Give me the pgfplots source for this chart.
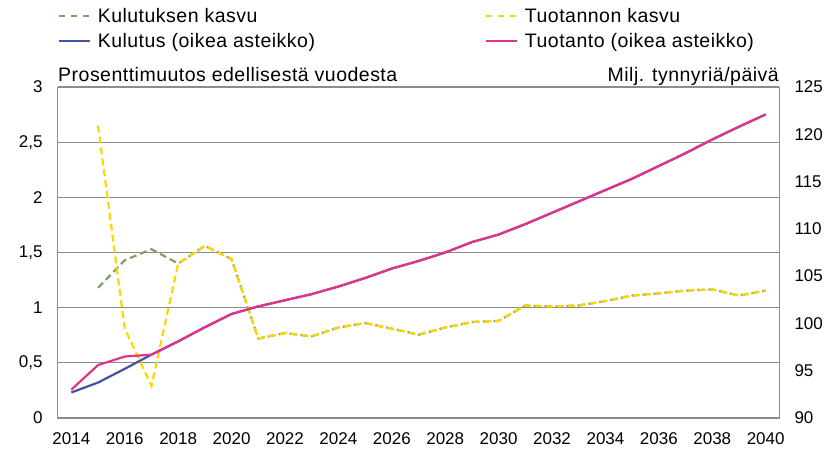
\documentclass[border=0pt]{standalone}
\usepackage{pgfplots}
\pgfplotsset{compat=1.18}
\usepackage{fontspec}
\setmainfont{Liberation Sans}
\newfontfamily\spaced[LetterSpace=2.5]{Liberation Sans}
\definecolor{cgreen}{RGB}{128,160,100}
\definecolor{cyellow}{RGB}{255,214,0}
\definecolor{cblue}{RGB}{70,80,165}
\definecolor{cpink}{RGB}{228,50,140}
\definecolor{cgrid}{RGB}{140,140,140}
\newcommand\f{\fontsize{17}{20}\selectfont}
\newcommand\g{\spaced\fontsize{19.5}{22}\selectfont}
\pgfplotsset{common/.style={scale only axis, width=721pt, height=331pt,
  at={(58pt,33pt)}, anchor=south west, xmin=2013.5, xmax=2040.5,
  axis line style={cgrid, line width=1pt}, major tick length=0pt,
  tick label style={font=\f, text=black},
  /pgf/number format/assume math mode=true,
  /pgf/number format/use comma, /pgf/number format/1000 sep={},
  legend image code/.code={\draw[#1, line width=2.2pt] (0pt,0pt) -- (31pt,0pt); \path (36pt,0pt);}}}
\begin{document}
\begin{tikzpicture}
\begin{axis}[common, clip=false, ymin=0, ymax=3, ytick={0,0.5,...,3},
  xtick={2014,2016,...,2040}, ymajorgrids, grid style={cgrid, line width=1.2pt},
  yticklabel style={xshift=-12pt}, xticklabel style={yshift=-11pt}]
\addplot[cgreen, line width=2.2pt, dash pattern=on 7pt off 4pt] coordinates {
(2015,1.18)(2016,1.43)(2017,1.53)(2018,1.40)(2019,1.56)(2020,1.44)(2021,0.72)(2022,0.77)(2023,0.74)(2024,0.82)(2025,0.86)(2026,0.81)(2027,0.755)(2028,0.82)(2029,0.87)(2030,0.88)(2031,1.02)(2032,1.01)(2033,1.02)(2034,1.06)(2035,1.11)(2036,1.13)(2037,1.155)(2038,1.165)(2039,1.11)(2040,1.155)};
\addplot[cyellow, line width=2.2pt, dash pattern=on 7pt off 4pt] coordinates {
(2015,2.65)(2016,0.81)(2017,0.29)(2018,1.40)(2019,1.56)(2020,1.44)(2021,0.72)(2022,0.77)(2023,0.74)(2024,0.82)(2025,0.86)(2026,0.81)(2027,0.755)(2028,0.82)(2029,0.87)(2030,0.88)(2031,1.02)(2032,1.01)(2033,1.02)(2034,1.06)(2035,1.11)(2036,1.13)(2037,1.155)(2038,1.165)(2039,1.11)(2040,1.155)};
\node[anchor=base west, font=\g, inner sep=0pt] at ([yshift=6pt]rel axis cs:0,1) {Prosenttimuutos edellisestä vuodesta};
\node[anchor=base east, font=\g, inner sep=0pt] at ([yshift=6pt]rel axis cs:1,1) {Milj. tynnyriä/päivä};
\end{axis}
\begin{axis}[common, ymin=90, ymax=125, ytick={90,95,...,125},
  axis y line*=right, axis x line=none, yticklabel style={xshift=12pt},
  legend columns=2, legend cell align=left,
  legend style={draw=none, fill=none, font=\g, at={(-0.005,1.25)}, anchor=north west,
    /tikz/row sep=5.5pt, /tikz/every even column/.append style={column sep=0pt}}]
\addlegendimage{cgreen, dash pattern=on 6pt off 6pt}
\addlegendentry{\makebox[385pt][l]{Kulutuksen kasvu}}
\addlegendimage{cyellow, dash pattern=on 6pt off 6pt}
\addlegendentry{Tuotannon kasvu}
\addplot[cblue, line width=2.2pt] coordinates {
(2014,92.7)(2015,93.75)(2016,95.2)(2017,96.7)(2018,98.1)(2019,99.6)(2020,101.0)(2021,101.8)(2022,102.45)(2023,103.1)(2024,103.9)(2025,104.8)(2026,105.8)(2027,106.6)(2028,107.5)(2029,108.6)(2030,109.4)(2031,110.5)(2032,111.7)(2033,112.9)(2034,114.1)(2035,115.3)(2036,116.65)(2037,118.0)(2038,119.45)(2039,120.8)(2040,122.1)};
\addlegendentry{\makebox[385pt][l]{Kulutus (oikea asteikko)}}
\addplot[cpink, line width=2.2pt] coordinates {
(2014,93.0)(2015,95.6)(2016,96.5)(2017,96.7)(2018,98.1)(2019,99.6)(2020,101.0)(2021,101.8)(2022,102.45)(2023,103.1)(2024,103.9)(2025,104.8)(2026,105.8)(2027,106.6)(2028,107.5)(2029,108.6)(2030,109.4)(2031,110.5)(2032,111.7)(2033,112.9)(2034,114.1)(2035,115.3)(2036,116.65)(2037,118.0)(2038,119.45)(2039,120.8)(2040,122.1)};
\addlegendentry{Tuotanto (oikea asteikko)}
\end{axis}
\pgfresetboundingbox
\path[use as bounding box] (0,0) rectangle (834pt,451pt);
\end{tikzpicture}
\end{document}
